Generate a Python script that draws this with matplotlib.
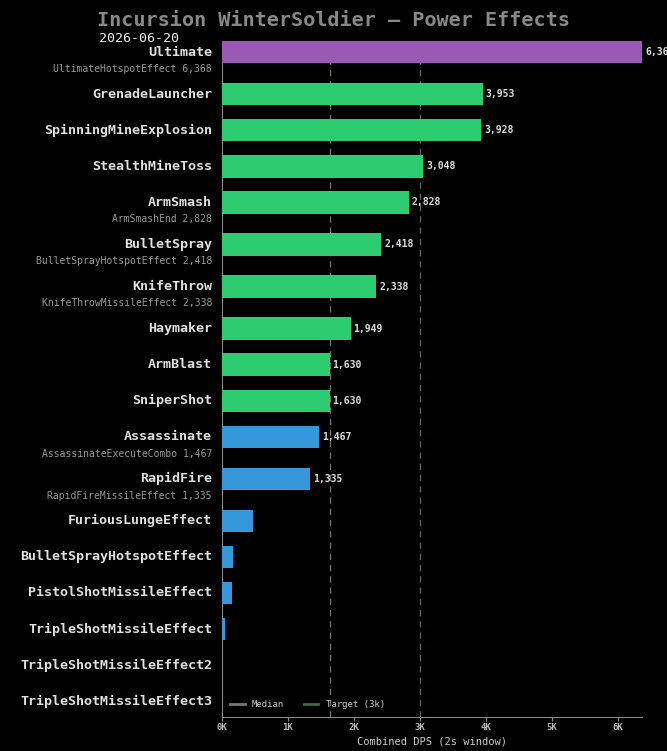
import matplotlib.pyplot as plt
from matplotlib.lines import Line2D
import numpy as np

names = ["Ultimate", "GrenadeLauncher", "SpinningMineExplosion", "StealthMineToss",
         "ArmSmash", "BulletSpray", "KnifeThrow", "Haymaker", "ArmBlast", "SniperShot",
         "Assassinate", "RapidFire", "FuriousLungeEffect", "BulletSprayHotspotEffect",
         "PistolShotMissileEffect", "TripleShotMissileEffect", "TripleShotMissileEffect2",
         "TripleShotMissileEffect3"]
dps = [6368, 3953, 3928, 3048, 2828, 2418, 2338, 1949, 1630, 1630,
       1467, 1335, 471, 167, 152, 40, 5, 5]
sublabels = ["UltimateHotspotEffect 6,368", "", "", "", "ArmSmashEnd 2,828",
             "BulletSprayHotspotEffect 2,418", "KnifeThrowMissileEffect 2,338", "", "", "",
             "AssassinateExecuteCombo 1,467", "RapidFireMissileEffect 1,335", "", "", "", "", "", ""]
target = 3000
title = "Incursion WinterSoldier \u2014 Power Effects"
date = "2026-06-20"

BG = "#000000"
mono = "DejaVu Sans Mono"

def bar_color(v):
    if v >= 5000:
        return "#9b59b6"
    if v >= 1500:
        return "#2ecc71"
    return "#3498db"

# row positions: rows with a sub label get a bit more room
ypos = []
y = 0.0
for s in sublabels:
    ypos.append(y)
    y += 1.1667 if s else 1.0

fig = plt.figure(figsize=(6.67, 7.51), dpi=100, facecolor=BG)
ax = fig.add_axes([222/667, 1 - 717/751, 420/667, (717 - 41)/751])
ax.set_facecolor(BG)

ax.barh(ypos, dps, height=0.62, color=[bar_color(v) for v in dps], zorder=3)

med = np.median(dps)
ax.axvline(med, color="#777777", ls=(0, (5, 4)), lw=0.9, zorder=1)
ax.axvline(target, color="#5f6f5f", ls=(0, (5, 4)), lw=0.9, zorder=1)

for yy, v in zip(ypos, dps):
    if v >= 1000:
        ax.text(v + 45, yy, f"{v:,}", color="#dddddd", fontsize=7, family=mono,
                fontweight="bold", va="center", ha="left", zorder=4, clip_on=False)

ax.set_yticks([])
for yy, n, s in zip(ypos, names, sublabels):
    ax.text(-0.024, yy, n, transform=ax.get_yaxis_transform(), ha="right", va="center",
            color="#e0e0e0", fontsize=9.6, family=mono, fontweight="bold")
    if s:
        ax.text(-0.024, yy + 0.47, s, transform=ax.get_yaxis_transform(), ha="right",
                va="center", color="#9a9a9a", fontsize=7, family=mono)

ax.set_xlim(0, max(dps))
ax.set_ylim(ypos[-1] + 0.44, -0.31)
ticks = np.arange(0, 7000, 1000)
ax.set_xticks(ticks)
ax.set_xticklabels([f"{t // 1000}K" for t in ticks], color="#bbbbbb", fontsize=6.5,
                   family=mono, fontweight="bold")
ax.tick_params(axis="x", colors="#888888", length=3, width=0.8, pad=1.5,
               labelcolor="#bbbbbb")
ax.set_xlabel("Combined DPS (2s window)", color="#cccccc", fontsize=7.5, family=mono,
              labelpad=3)
for sp in ["top", "right"]:
    ax.spines[sp].set_visible(False)
ax.spines["left"].set_color("#888888")
ax.spines["bottom"].set_color("#888888")

handles = [Line2D([], [], color="#777777", lw=2),
           Line2D([], [], color="#3d6b3d", lw=2)]
leg = ax.legend(handles, ["Median", "Target (3k)"], loc="lower left", ncol=2, frameon=False,
                prop={"family": mono, "size": 6.5}, handlelength=1.6, columnspacing=2.2,
                bbox_to_anchor=(0.0, 0.0), borderaxespad=0.5)
for t in leg.get_texts():
    t.set_color("#cccccc")

fig.text(0.5, 1 - 20/751, title, ha="center", va="center", color="#888888", fontsize=14.5,
         family=mono, fontweight="bold")
fig.text(99/667, 1 - 38/751, date, ha="left", va="center", color="#eeeeee", fontsize=9.5,
         family=mono)

fig.savefig("out.png", dpi=100, facecolor=BG)
